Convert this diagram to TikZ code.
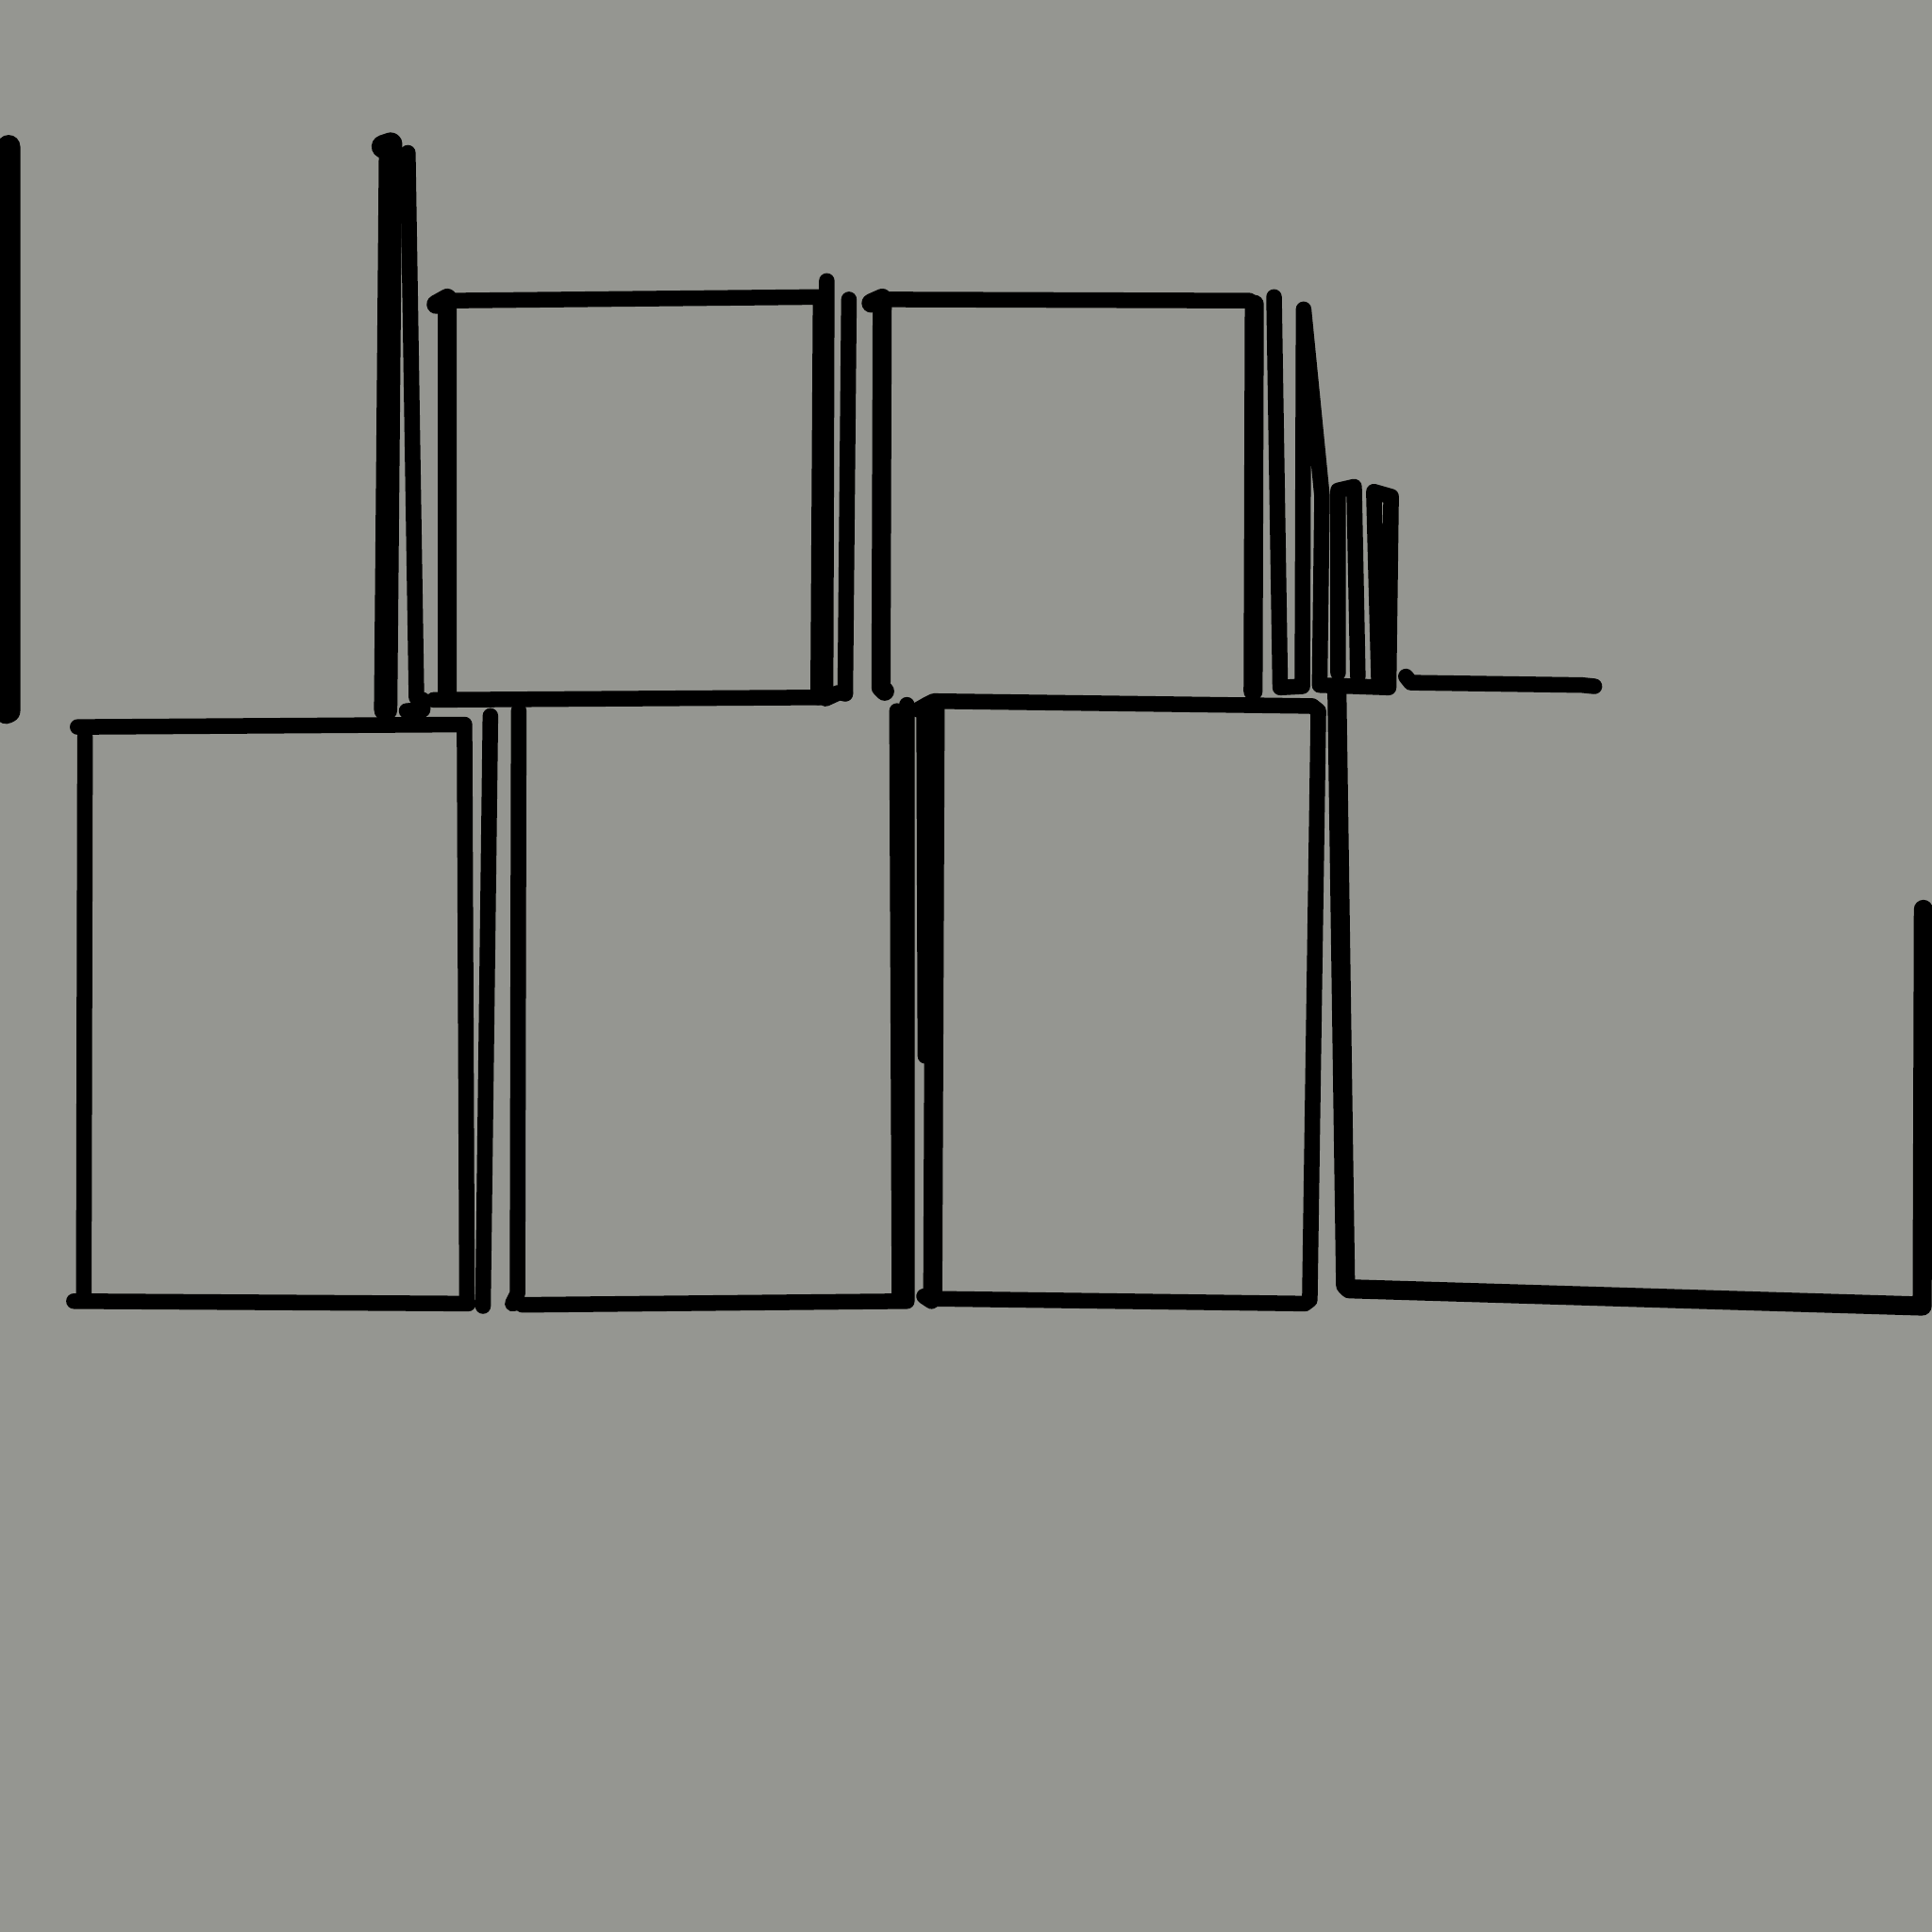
\documentclass[tikz,border=0pt]{standalone}
\begin{document}
\begin{tikzpicture}[x=0.1mm,y=-0.1mm,
  pen/.style={line width=3.6pt,line cap=round,line join=round,draw=black},
  penthick/.style={pen,line width=4.4pt},
  penheavy/.style={pen,line width=5.4pt}]
\definecolor{bg}{RGB}{149,150,145}
\fill[bg] (0,0) rectangle (1568,1568);
\useasboundingbox (0,0) rectangle (1568,1568);
% far left line
\draw[penheavy] (7,119) -- (7,577) -- (5,578);
% tall lines
\draw[penheavy] (311,119) -- (317,117) -- (315,350) -- (313,576);
\draw[pen] (331,124) -- (338,566);
\draw[pen] (330,577) -- (343,576) -- (343,568);
% top box 1
\draw[penthick] (354,247) -- (363,242) -- (363,566);
\draw[pen] (363,244) -- (666,241) -- (664,566);
\draw[pen] (352,568) -- (666,566);
\draw[pen] (671,228) -- (670,567) -- (681,562) -- (686,563);
\draw[pen] (689,243) -- (686,563);
% top box 2
\draw[penthick] (707,246) -- (716,242) -- (715,558) -- (718,561);
\draw[pen] (716,243) -- (1014,244) -- (1018,247);
\draw[penthick] (1018,247) -- (1017,561);
% zigzag and small U shapes
\draw[pen] (1034,241) -- (1039,558) -- (1057,557) -- (1058,251) -- (1073,403)
  -- (1071,556) -- (1127,558) -- (1129,403) -- (1115,399) -- (1119,551);
\draw[pen] (1086,546) -- (1086,398) -- (1099,395) -- (1102,549);
% horizontal stroke
\draw[pen] (1141,549) -- (1145,554) -- (1284,556) -- (1294,557);
% big right L shape
\draw[penthick] (1085,557) -- (1092,1043) -- (1095,1046) -- (1560,1060) -- (1561,738);
% lower box 3
\draw[pen] (63,590) -- (377,588) -- (379,1057);
\draw[pen] (69,598) -- (68,1050);
\draw[pen] (60,1056) -- (380,1058);
\draw[pen] (398,581) -- (392,1060);
% lower box 4
\draw[pen] (421,577) -- (420,1050) -- (416,1058) -- (420,1057);
\draw[pen] (424,1059) -- (736,1056) -- (736,572);
\draw[pen] (728,577) -- (730,1050);
% lower box 5
\draw[pen] (750,575) -- (751,857);
\draw[pen] (745,576) -- (752,572) -- (758,569) -- (1065,573) -- (1070,577)
  -- (1063,1055) -- (1059,1058) -- (757,1054);
\draw[penthick] (759,572) -- (757,1053);
\draw[pen] (750,1052) -- (756,1056) -- (760,1053);
\end{tikzpicture}
\end{document}
